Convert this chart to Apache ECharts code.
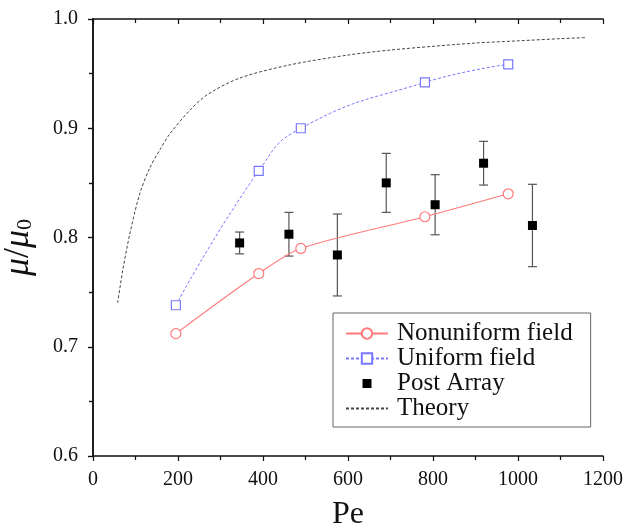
<!DOCTYPE html>
<html>
<head>
<meta charset="utf-8">
<script src="https://cdn.jsdelivr.net/npm/echarts@6/dist/echarts.min.js"></script>
<style>html,body{margin:0;padding:0;background:#fff}#c{width:624px;height:523px}</style>
</head>
<body>
<div id="c"></div>
<script>
// Data
const nonuniformPe = [195, 390, 489, 781, 977];
const nonuniformMu = [0.712, 0.767, 0.790, 0.819, 0.840];
const uniformPe = [195, 390, 489, 781, 977];
const uniformMu = [0.738, 0.861, 0.900, 0.942, 0.9585];
const postPe = [345, 461, 575, 690, 805, 919, 1034];
const postMu = [0.795, 0.803, 0.784, 0.850, 0.830, 0.868, 0.811];
const postErr = [0.010, 0.020, 0.0375, 0.027, 0.0275, 0.020, 0.0377];
const theoryPe = [58, 70, 87, 110, 134, 160, 181, 228, 270, 346, 463, 600, 700, 800, 900, 1000, 1100, 1160];
const theoryMu = [0.740, 0.770, 0.804, 0.840, 0.864, 0.882, 0.895, 0.9165, 0.931, 0.946, 0.958, 0.967, 0.9716, 0.975, 0.978, 0.980, 0.982, 0.983];
const xTicks = [0, 200, 400, 600, 800, 1000, 1200];
const yTicks = [0.6, 0.7, 0.8, 0.9, 1.0];

const zip = (a, b) => a.map((v, i) => [v, b[i]]);
const FONT = '"Liberation Serif", "DejaVu Serif", serif';

const chart = echarts.init(document.getElementById('c'), null, {renderer: 'canvas'});
const axisCommon = {
  axisLine: {show: true, lineStyle: {color: '#111', width: 1.5}},
  splitLine: {show: false}
};
const tickStyle = {color: '#111', width: 1.2};
chart.setOption({
  animation: false,
  backgroundColor: '#fff',
  grid: {left: 93, right: 21, top: 19, bottom: 67, containLabel: false, outerBoundsMode: 'none'},
  legend: {
    orient: 'vertical',
    left: 333, top: 313,
    padding: [8, 18, 6, 12],
    itemWidth: 42, itemHeight: 13, itemGap: 0,
    borderColor: '#666', borderWidth: 1,
    backgroundColor: '#fff',
    textStyle: {fontFamily: FONT, fontSize: 25, color: '#111', lineHeight: 24.5, padding: [0, 0, 0, 4]},
    data: [
      {name: 'Nonuniform field'},
      {name: 'Uniform field'},
      {name: 'Post Array', icon: 'path://M0,0M13,13M2,2L11,2L11,11L2,11Z'},
      {name: 'Theory', itemStyle: {color: 'rgba(0,0,0,0)', borderColor: 'rgba(0,0,0,0)', borderWidth: 0}}
    ]
  },
  xAxis: [{
    ...axisCommon,
    type: 'value', min: xTicks[0], max: xTicks[xTicks.length - 1], interval: 200,
    name: 'Pe', nameLocation: 'middle', nameGap: 43,
    nameTextStyle: {fontFamily: FONT, fontSize: 32, color: '#111'},
    axisTick: {show: true, inside: false, length: 5, lineStyle: tickStyle},
    minorTick: {show: true, splitNumber: 2, length: 4, lineStyle: tickStyle},
    axisLabel: {fontFamily: FONT, fontSize: 20, color: '#111', margin: 14, formatter: v => String(v)}
  }, {
    ...axisCommon,
    type: 'value', position: 'top', min: xTicks[0], max: xTicks[xTicks.length - 1], interval: 200,
    axisTick: {show: true, inside: true, length: 5, lineStyle: tickStyle},
    minorTick: {show: true, splitNumber: 2, length: 4, lineStyle: tickStyle},
    axisLabel: {show: false}
  }],
  yAxis: [{
    ...axisCommon,
    type: 'value', min: yTicks[0], max: yTicks[yTicks.length - 1], interval: 0.1,
    name: '{i|μ}{n|/}{i|μ}{s|0}', nameLocation: 'middle', nameGap: 56,
    nameTextStyle: {
      fontFamily: FONT, fontSize: 36, color: '#111', padding: [0, 20, 0, 0],
      rich: {
        i: {fontFamily: FONT, fontStyle: 'italic', fontSize: 36, color: '#111'},
        n: {fontFamily: FONT, fontSize: 36, color: '#111'},
        s: {fontFamily: FONT, fontSize: 22, color: '#111', padding: [13, 0, 0, 0]}
      }
    },
    axisTick: {show: true, inside: false, length: 5, lineStyle: tickStyle},
    minorTick: {show: true, splitNumber: 2, length: 4, lineStyle: tickStyle},
    axisLabel: {fontFamily: FONT, fontSize: 20, color: '#111', margin: 15, formatter: v => v.toFixed(1)}
  }, {
    ...axisCommon,
    type: 'value', position: 'right', min: yTicks[0], max: yTicks[yTicks.length - 1], interval: 0.1,
    axisTick: {show: true, inside: true, length: 5, lineStyle: tickStyle},
    minorTick: {show: true, splitNumber: 2, length: 4, lineStyle: tickStyle},
    axisLabel: {show: false}
  }],
  series: [
    {
      name: 'Theory', type: 'line', data: zip(theoryPe, theoryMu), smooth: 0.3,
      symbol: 'none', color: '#444',
      lineStyle: {color: '#444', width: 1, type: [3, 2]}
    },
    {
      name: 'Error', type: 'custom', z: 2,
      data: postPe.map((x, i) => [x, postMu[i] - postErr[i], postMu[i] + postErr[i]]),
      renderItem: (params, api) => {
        const lo = api.coord([api.value(0), api.value(1)]);
        const hi = api.coord([api.value(0), api.value(2)]);
        const w = 4.5;
        const st = {stroke: '#555', lineWidth: 1.2};
        return {type: 'group', children: [
          {type: 'line', shape: {x1: lo[0], y1: lo[1], x2: hi[0], y2: hi[1]}, style: st},
          {type: 'line', shape: {x1: lo[0] - w, y1: lo[1], x2: lo[0] + w, y2: lo[1]}, style: st},
          {type: 'line', shape: {x1: hi[0] - w, y1: hi[1], x2: hi[0] + w, y2: hi[1]}, style: st}
        ]};
      }
    },
    {
      name: 'Post Array', type: 'scatter', data: zip(postPe, postMu), z: 4,
      symbol: 'rect', symbolSize: 9, color: '#000',
      itemStyle: {color: '#000', opacity: 1}
    },
    {
      name: 'Uniform field', type: 'line', data: zip(uniformPe, uniformMu), smooth: 0.5, z: 3,
      symbol: 'rect', symbolSize: 9, showSymbol: true, color: '#7878ff',
      itemStyle: {color: '#fff', borderColor: '#7878ff', borderWidth: 1.2},
      lineStyle: {color: '#7878ff', width: 1, type: [3, 2]}
    },
    {
      name: 'Nonuniform field', type: 'line', data: zip(nonuniformPe, nonuniformMu), smooth: 0.3, z: 3,
      symbol: 'circle', symbolSize: 10, showSymbol: true, color: '#ff7a7a',
      itemStyle: {color: '#fff', borderColor: '#ff7a7a', borderWidth: 1.2},
      lineStyle: {color: '#ff7a7a', width: 1.1}
    }
  ]
});
</script>
</body>
</html>
